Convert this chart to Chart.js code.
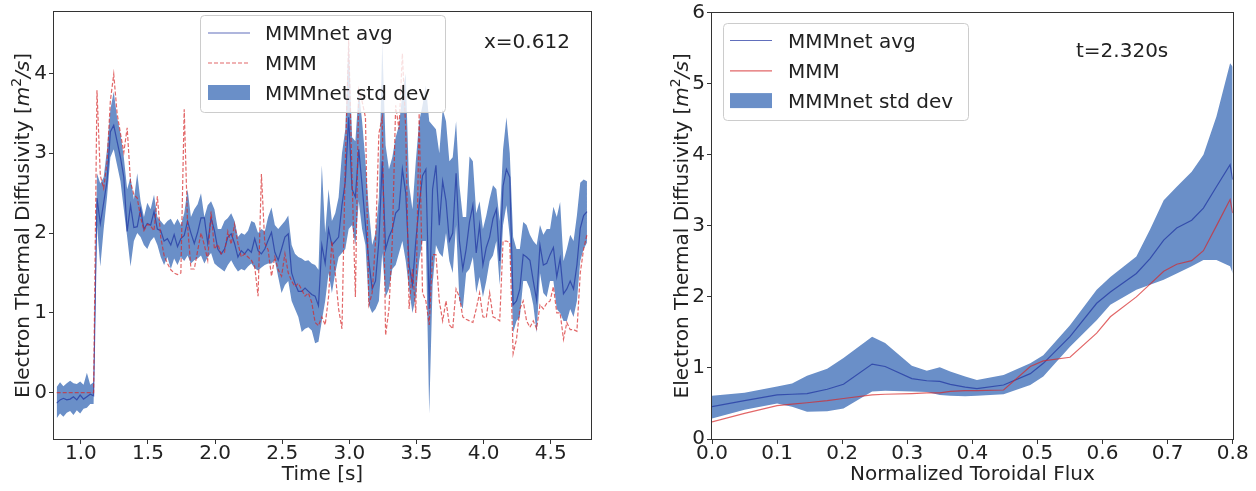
<!DOCTYPE html>
<html>
<head>
<meta charset="utf-8">
<script src="https://cdn.jsdelivr.net/npm/chart.js@4.4.0/dist/chart.umd.min.js"></script>
<style>
  html, body { margin: 0; padding: 0; background: #fff; }
  .panel { position: absolute; top: 0; width: 628px; height: 491px; }
  #left { left: 0; }
  #right { left: 628px; }
</style>
</head>
<body>
<div class="panel" id="left"><canvas id="timeChart"></canvas></div>
<div class="panel" id="right"><canvas id="profChart"></canvas></div>
<script>
const FONT = 'DejaVu Sans';
const INK = '#222';
const FRAME = '#333';
const BAND = '#6a8fc8';
const AVG = 'rgba(30,50,160,0.7)';
const RED = 'rgba(214,39,40,0.7)';

// chi_e time trace at x = 0.612
const timeS = [
  0.82, 0.845, 0.87, 0.895, 0.92, 0.945, 0.97, 0.995,
  1.02, 1.045, 1.07, 1.095, 1.12, 1.145, 1.17, 1.195,
  1.22, 1.245, 1.27, 1.295, 1.32, 1.345, 1.37, 1.395,
  1.42, 1.445, 1.47, 1.495, 1.52, 1.545, 1.57, 1.595,
  1.62, 1.645, 1.67, 1.695, 1.72, 1.745, 1.77, 1.795,
  1.82, 1.845, 1.87, 1.895, 1.92, 1.945, 1.97, 1.995,
  2.02, 2.045, 2.07, 2.095, 2.12, 2.145, 2.17, 2.195,
  2.22, 2.245, 2.27, 2.295, 2.32, 2.345, 2.37, 2.395,
  2.42, 2.445, 2.47, 2.495, 2.52, 2.545, 2.57, 2.595,
  2.62, 2.645, 2.67, 2.695, 2.72, 2.745, 2.77, 2.795,
  2.82, 2.845, 2.87, 2.895, 2.92, 2.945, 2.97, 2.995,
  3.02, 3.045, 3.07, 3.095, 3.12, 3.145, 3.17, 3.195,
  3.22, 3.245, 3.27, 3.295, 3.32, 3.345, 3.37, 3.395,
  3.42, 3.445, 3.47, 3.495, 3.52, 3.545, 3.57, 3.595,
  3.62, 3.645, 3.67, 3.695, 3.72, 3.745, 3.77, 3.795,
  3.82, 3.845, 3.87, 3.895, 3.92, 3.945, 3.97, 3.995,
  4.02, 4.045, 4.07, 4.095, 4.12, 4.145, 4.17, 4.195,
  4.22, 4.245, 4.27, 4.295, 4.32, 4.345, 4.37, 4.395,
  4.42, 4.445, 4.47, 4.495, 4.52, 4.545, 4.57, 4.595,
  4.62, 4.645, 4.67, 4.695, 4.72, 4.745, 4.77
];
const avgTime = [
  -0.13, -0.09, -0.07, -0.09, -0.08, -0.05, -0.09, -0.03,
  -0.08, -0.05, -0.02, -0.04, 2.44, 2.12, 2.38, 2.65,
  3.27, 3.35, 3.15, 2.95, 2.70, 2.02, 2.35, 2.07,
  2.08, 2.30, 2.05, 2.12, 2.10, 2.27, 2.05, 2.03,
  1.90, 1.93, 1.85, 1.98, 1.83, 1.93, 1.97, 2.15,
  2.00, 1.87, 2.01, 2.19, 2.19, 1.87, 2.19, 2.03,
  1.80, 1.74, 1.80, 1.95, 1.99, 1.87, 1.70, 1.78,
  1.74, 1.80, 1.76, 1.93, 1.78, 1.74, 1.80, 1.91,
  2.01, 1.76, 1.66, 1.80, 1.95, 1.99, 1.50, 1.37,
  1.27, 1.27, 1.31, 1.27, 1.23, 1.21, 1.09, 1.85,
  1.62, 2.05, 1.85, 1.90, 1.95, 2.35, 2.65, 3.45,
  2.55, 2.45, 3.05, 2.60, 2.10, 1.65, 1.30, 1.40,
  1.90, 2.90, 1.80, 1.95, 2.05, 2.25, 2.30, 2.80,
  2.50, 1.60, 1.35, 1.90, 2.35, 2.72, 2.80, 1.05,
  2.55, 2.85, 2.10, 2.65, 2.40, 1.90, 2.00, 2.75,
  1.90, 1.55, 1.80, 2.14, 2.35, 1.75, 2.10, 1.60,
  1.82, 1.95, 2.18, 2.30, 1.65, 2.59, 2.80, 2.70,
  1.10, 1.15, 1.30, 1.73, 1.70, 1.66, 1.40, 1.16,
  1.85, 1.60, 1.62, 1.73, 1.82, 1.45, 1.68, 1.24,
  1.30, 1.40, 1.30, 1.60, 2.06, 2.22, 2.27
];
// avg + std
const hiTime = [
  0.07, 0.13, 0.08, 0.12, 0.15, 0.12, 0.11, 0.14,
  0.10, 0.25, 0.10, 0.13, 2.75, 2.62, 2.70, 3.05,
  3.55, 3.77, 3.45, 3.25, 2.95, 2.55, 2.70, 2.42,
  2.75, 2.40, 2.20, 2.38, 2.30, 2.48, 2.20, 2.15,
  2.10, 2.15, 2.18, 2.10, 2.18, 2.10, 2.25, 2.55,
  2.20, 2.30, 2.36, 2.50, 2.20, 2.35, 2.40, 2.30,
  2.05, 2.05, 2.15, 2.19, 2.25, 2.15, 1.95, 2.00,
  1.98, 2.03, 2.15, 2.13, 2.00, 2.05, 2.02, 2.20,
  2.32, 2.10, 2.05, 2.10, 2.15, 2.22, 1.85, 1.74,
  1.70, 1.68, 1.65, 1.66, 1.62, 1.60, 1.54, 2.85,
  2.00, 2.55, 2.15, 2.25, 2.45, 3.00, 3.30, 4.45,
  3.20, 3.15, 3.80, 3.40, 2.90, 2.30, 1.85, 2.00,
  2.45, 4.40, 3.10, 2.80, 2.95, 3.20, 3.35, 3.75,
  4.00, 2.60, 2.30, 2.90, 3.40, 3.60, 3.85, 3.40,
  3.35, 3.30, 3.00, 3.55, 3.40, 2.90, 2.95, 3.40,
  2.60, 2.20, 2.20, 2.96, 2.90, 2.25, 2.40, 2.05,
  2.22, 2.43, 2.60, 2.55, 2.15, 3.05, 3.45, 3.00,
  1.95, 1.80, 1.80, 2.14, 2.10, 1.98, 1.90, 1.85,
  2.10, 1.98, 2.05, 2.05, 2.33, 2.20, 2.39, 1.65,
  1.80, 1.98, 1.90, 2.22, 2.63, 2.67, 2.65
];
// avg - std
const loTime = [
  -0.32, -0.26, -0.30, -0.25, -0.23, -0.28, -0.22, -0.26,
  -0.20, -0.19, -0.14, -0.14, 2.10, 1.58, 2.05, 2.45,
  2.95, 3.05, 2.85, 2.65, 2.30, 1.95, 1.58, 1.90,
  2.00, 1.95, 1.85, 1.80, 1.90, 1.95, 1.85, 1.70,
  1.60, 1.70, 1.55, 1.68, 1.60, 1.70, 1.65, 1.72,
  1.62, 1.66, 1.68, 1.72, 1.62, 1.70, 1.75, 1.62,
  1.58, 1.55, 1.52, 1.60, 1.66, 1.58, 1.52, 1.55,
  1.53, 1.58, 1.62, 1.56, 1.53, 1.57, 1.60, 1.62,
  1.62, 1.66, 1.45, 1.25, 1.35, 1.40, 1.15, 1.05,
  0.95, 0.76, 0.80, 0.82, 0.78, 0.62, 0.64, 0.90,
  1.15, 1.50, 1.25, 1.50, 1.70, 1.75, 1.80, 2.05,
  2.10, 1.85, 2.40, 2.05, 1.85, 1.10, 1.00, 1.05,
  1.15, 1.75, 1.20, 1.30, 1.55, 1.60, 1.75, 1.90,
  1.65, 1.30, 1.00, 1.20, 1.65, 1.90, 1.90, -0.26,
  1.35, 1.85, 1.75, 1.70, 2.00, 1.65, 1.50, 2.10,
  1.15, 1.05, 1.50, 1.55, 1.70, 1.25, 1.45, 1.20,
  1.40, 1.65, 1.72, 1.90, 1.35, 2.10, 2.35, 1.95,
  0.75, 0.90, 0.95, 1.40, 1.40, 1.30, 1.10, 0.75,
  1.50, 1.25, 1.20, 1.40, 1.40, 1.05, 1.00, 0.90,
  0.90, 1.05, 0.95, 1.15, 1.65, 1.80, 1.88
];
const mmmTime = [
  0, 0, 0, 0, 0, 0, 0, 0,
  0, 0, 0, 0, 3.79, 2.72, 2.56, 2.89,
  3.66, 3.99, 3.50, 3.25, 3.01, 3.32, 2.64, 2.48,
  2.44, 2.20, 2.03, 2.11, 2.09, 2.03, 2.46, 1.95,
  1.72, 1.62, 1.54, 1.50, 1.48, 1.50, 3.55, 2.10,
  1.55, 1.55, 1.78, 2.00, 1.85, 1.66, 2.27, 1.80,
  1.86, 1.74, 1.76, 2.02, 1.86, 2.11, 1.87, 1.70,
  1.74, 1.70, 1.66, 1.58, 1.21, 2.74, 1.87, 1.79,
  1.46, 1.70, 1.54, 1.46, 1.74, 1.50, 1.40, 1.33,
  1.37, 1.29, 1.21, 1.25, 1.13, 0.88, 0.84, 0.95,
  0.85, 1.20, 1.90, 1.50, 1.05, 0.80, 2.90, 4.42,
  2.70, 1.20, 3.80, 3.65, 3.45, 1.10, 1.25, 1.90,
  3.25, 3.45, 0.72, 1.05, 1.90, 3.60, 3.30, 4.25,
  3.30, 1.05, 1.55, 1.00, 3.50, 1.25, 1.15, 0.85,
  1.73, 1.73, 1.15, 0.90, 1.15, 0.85, 0.80, 1.30,
  1.20, 0.95, 0.92, 0.90, 0.88, 1.05, 1.25, 0.95,
  0.94, 1.25, 0.95, 0.93, 0.90, 1.90, 1.90, 1.88,
  0.49, 0.67, 1.05, 1.15, 0.90, 0.82, 0.90, 0.80,
  1.10, 1.05, 1.12, 1.15, 1.33, 1.00, 1.00, 0.67,
  0.88, 0.79, 0.79, 0.77, 1.50, 1.80, 1.98
];

// chi_e radial profile at t = 2.320 s
const rhoTor = [0, 0.05, 0.1, 0.123, 0.146, 0.177, 0.202, 0.246, 0.266, 0.307,
  0.33, 0.35, 0.366, 0.389, 0.407, 0.448, 0.489, 0.509, 0.55, 0.591,
  0.612, 0.652, 0.673, 0.694, 0.714, 0.737, 0.755, 0.775, 0.796, 0.8];
const avgProf = [0.455, 0.54, 0.62, 0.63, 0.64, 0.70, 0.77, 1.055, 1.02, 0.85,
  0.82, 0.81, 0.77, 0.73, 0.71, 0.76, 0.92, 1.065, 1.44, 1.91,
  2.07, 2.33, 2.54, 2.80, 2.97, 3.08, 3.25, 3.55, 3.86, 3.65];
const hiProf = [0.61, 0.65, 0.74, 0.78, 0.89, 0.99, 1.14, 1.44, 1.35, 1.03,
  0.96, 1.01, 0.95, 0.88, 0.83, 0.90, 1.065, 1.18, 1.60, 2.10,
  2.28, 2.57, 2.95, 3.36, 3.55, 3.76, 4.00, 4.54, 5.29, 5.24];
const loProf = [0.29, 0.41, 0.50, 0.455, 0.385, 0.39, 0.43, 0.67, 0.68, 0.67,
  0.66, 0.62, 0.61, 0.60, 0.61, 0.63, 0.76, 0.88, 1.30, 1.67,
  1.89, 2.10, 2.17, 2.24, 2.33, 2.43, 2.52, 2.52, 2.43, 2.33];
const mmmProf = [0.24, 0.36, 0.47, 0.49, 0.51, 0.54, 0.57, 0.62, 0.63, 0.64,
  0.65, 0.65, 0.67, 0.68, 0.68, 0.69, 1.02, 1.10, 1.15, 1.49,
  1.72, 2.00, 2.18, 2.36, 2.46, 2.51, 2.65, 3.00, 3.37, 3.18];

const timeTicks = [1.0, 1.5, 2.0, 2.5, 3.0, 3.5, 4.0, 4.5];
const chiTicksL = [0, 1, 2, 3, 4];
const rhoTicks = [0.0, 0.1, 0.2, 0.3, 0.4, 0.5, 0.6, 0.7, 0.8];
const chiTicksR = [0, 1, 2, 3, 4, 5, 6];

const pts = (xs, ys) => xs.map((x, i) => ({ x, y: ys[i] }));

function makeDatasets(xs, avg, hi, lo, mmm, dashed) {
  return [
    { label: 'MMMnet std dev', data: pts(xs, hi), borderWidth: 0, borderColor: 'rgba(0,0,0,0)',
      backgroundColor: BAND, fill: '+1', pointRadius: 0, order: 3 },
    { label: '', data: pts(xs, lo), borderWidth: 0, borderColor: 'rgba(0,0,0,0)',
      fill: false, pointRadius: 0, order: 4 },
    { label: 'MMMnet avg', data: pts(xs, avg), borderColor: AVG, borderWidth: 1.2,
      fill: false, pointRadius: 0, order: 1 },
    { label: 'MMM', data: pts(xs, mmm), borderColor: RED, borderWidth: 1.2,
      borderDash: dashed ? [4, 2] : [], fill: false, pointRadius: 0, order: 0 }
  ];
}

function axis(min, max, tickVals, fmt, pad, extra) {
  return Object.assign({
    type: 'linear', min, max,
    afterBuildTicks: s => { s.ticks = tickVals.map(v => ({ value: v })); },
    ticks: { color: INK, font: { family: FONT, size: 20, lineHeight: 1 }, padding: pad,
      maxRotation: 0, autoSkip: false, callback: fmt },
    grid: { display: true, drawOnChartArea: false, drawTicks: true, tickLength: 5, color: FRAME },
    border: { display: false }
  }, extra);
}

function roundRect(ctx, x, y, w, h, r) {
  ctx.beginPath();
  ctx.moveTo(x + r, y);
  ctx.arcTo(x + w, y, x + w, y + h, r);
  ctx.arcTo(x + w, y + h, x, y + h, r);
  ctx.arcTo(x, y + h, x, y, r);
  ctx.arcTo(x, y, x + w, y, r);
  ctx.closePath();
}

// y label with the mathtext-style unit [m^2/s]
function drawYTitle(ctx, x, cy) {
  const parts = [
    { text: 'Electron Thermal Diffusivity [', font: `20px "${FONT}"`, dy: 0 },
    { text: 'm', font: `italic 20px "${FONT}"`, dy: 0 },
    { text: '2', font: `14px "${FONT}"`, dy: -8 },
    { text: '/s', font: `italic 20px "${FONT}"`, dy: 0 },
    { text: ']', font: `20px "${FONT}"`, dy: 0 }
  ];
  let total = 0;
  parts.forEach(p => { ctx.font = p.font; p.w = ctx.measureText(p.text).width; total += p.w; });
  ctx.save();
  ctx.translate(x, cy);
  ctx.rotate(-Math.PI / 2);
  ctx.textBaseline = 'alphabetic';
  ctx.textAlign = 'left';
  ctx.fillStyle = INK;
  let cx = -total / 2;
  parts.forEach(p => { ctx.font = p.font; ctx.fillText(p.text, cx, p.dy); cx += p.w; });
  ctx.restore();
}

const panelDecor = {
  id: 'panelDecor',
  afterDatasetsDraw(chart, args, o) {
    const { ctx, chartArea: a } = chart;
    ctx.save();
    // spines
    ctx.strokeStyle = FRAME;
    ctx.lineWidth = 1;
    ctx.setLineDash([]);
    ctx.strokeRect(Math.round(a.left) - 0.5, Math.round(a.top) - 0.5,
      Math.round(a.right - a.left) + 1, Math.round(a.bottom - a.top) + 1);

    // legend
    const lg = o.legend;
    roundRect(ctx, lg.x + 0.5, lg.y + 0.5, lg.w, lg.h, 4);
    ctx.fillStyle = 'rgba(255,255,255,0.8)';
    ctx.fill();
    ctx.strokeStyle = '#cccccc';
    ctx.stroke();
    ctx.font = `20px "${FONT}"`;
    ctx.textBaseline = 'alphabetic';
    ctx.textAlign = 'left';
    [2, 3, 0].forEach((di, i) => {
      const ds = chart.data.datasets[di];
      const base = lg.base + i * lg.step;
      const mid = base - 7.5;
      if (di === 0) {
        ctx.fillStyle = ds.backgroundColor;
        ctx.fillRect(lg.hx, mid - 7.5, 42, 15);
      } else {
        ctx.strokeStyle = ds.borderColor;
        ctx.lineWidth = ds.borderWidth;
        ctx.setLineDash(ds.borderDash || []);
        ctx.beginPath();
        ctx.moveTo(lg.hx, mid + 0.5);
        ctx.lineTo(lg.hx + 42, mid + 0.5);
        ctx.stroke();
        ctx.setLineDash([]);
      }
      ctx.fillStyle = INK;
      ctx.fillText(ds.label, lg.tx, base);
    });

    // panel note
    ctx.fillStyle = INK;
    ctx.font = `20px "${FONT}"`;
    ctx.fillText(o.note.text, o.note.x, o.note.y);
    ctx.restore();

    drawYTitle(ctx, o.yTitleX, (a.top + a.bottom) / 2);
  }
};

function baseOptions(pad, plugin, xScale, yScale) {
  return {
    responsive: true,
    maintainAspectRatio: false,
    animation: false,
    devicePixelRatio: 1,
    layout: { padding: pad },
    plugins: { legend: { display: false }, tooltip: { enabled: false }, panelDecor: plugin },
    scales: { x: xScale, y: yScale }
  };
}

const xTitle = text => ({ display: true, text, color: INK,
  font: { family: FONT, size: 20, lineHeight: 1.2 }, padding: { top: 0, bottom: 4 } });

new Chart(document.getElementById('timeChart'), {
  type: 'line',
  data: { datasets: makeDatasets(timeS, avgTime, hiTime, loTime, mmmTime, true) },
  options: baseOptions(
    { top: 4, right: 37, left: 0, bottom: 0 },
    {
      legend: { x: 200, y: 15, w: 245, h: 97, hx: 208, tx: 265, base: 40, step: 30 },
      note: { text: 'x=0.612', x: 484, y: 48 },
      yTitleX: 29
    },
    axis(0.80, 4.80, timeTicks, v => v.toFixed(1), 0, {
      title: xTitle('Time [s]'),
      afterFit: s => { s.height = 52; }
    }),
    axis(-0.58, 4.77, chiTicksL, v => String(v), 2, {
      afterFit: s => { s.width = 54; }
    })
  ),
  plugins: [panelDecor]
});

new Chart(document.getElementById('profChart'), {
  type: 'line',
  data: { datasets: makeDatasets(rhoTor, avgProf, hiProf, loProf, mmmProf, false) },
  options: baseOptions(
    { top: 12.7, right: 23.3, left: 0, bottom: 0 },
    {
      legend: { x: 95, y: 23, w: 245, h: 97, hx: 102, tx: 160, base: 47.5, step: 30.3 },
      note: { text: 't=2.320s', x: 448, y: 56.5 },
      yTitleX: 60
    },
    axis(0, 0.8, rhoTicks, v => v.toFixed(1), 0, {
      title: xTitle('Normalized Toroidal Flux'),
      afterFit: s => { s.height = 52; }
    }),
    axis(0, 6, chiTicksR, v => String(v), 2, {
      afterFit: s => { s.width = 84; }
    })
  ),
  plugins: [panelDecor]
});
</script>
</body>
</html>
